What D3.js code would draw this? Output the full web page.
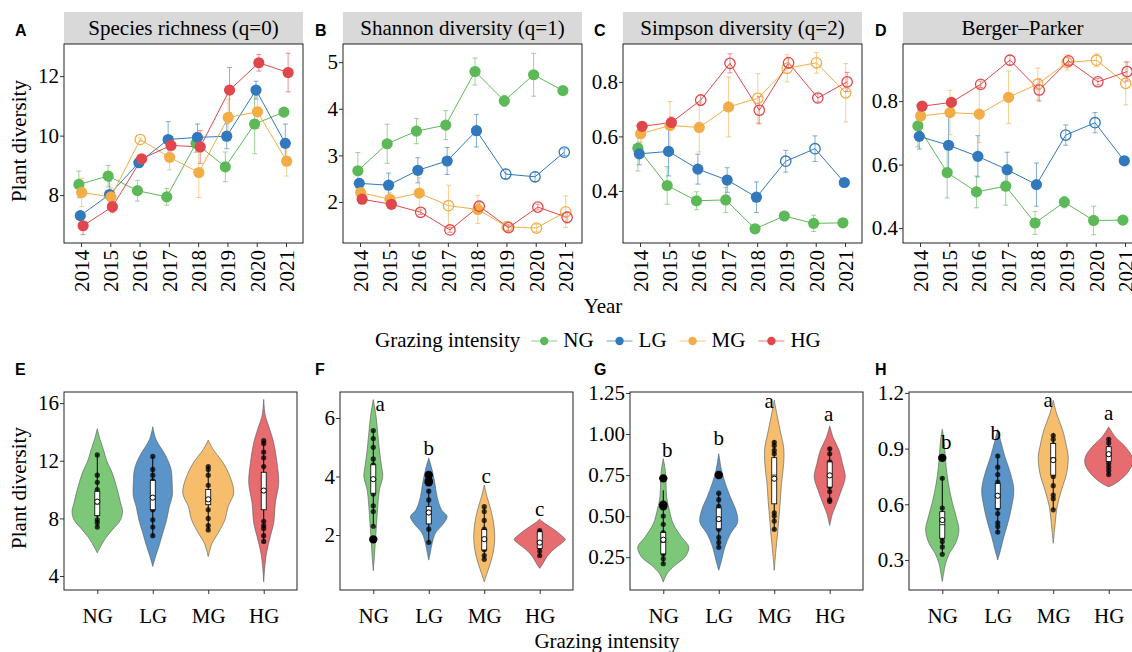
<!DOCTYPE html>
<html>
<head>
<meta charset="utf-8">
<script src="https://cdn.jsdelivr.net/npm/d3@7"></script>
<style>
  body { margin: 0; background: #fff; }
  text { font-family: "Liberation Serif", "Times New Roman", serif; }
</style>
</head>
<body>
<svg id="chart" width="1132" height="652"></svg>
<script>
// ---- categories ----
var years = [2014, 2015, 2016, 2017, 2018, 2019, 2020, 2021];
var groups = ['NG', 'LG', 'MG', 'HG'];
var colours = ['#5db957', '#3179bc', '#f2ad47', '#e0474c'];

// ---- yearly means / se (rows: NG, LG, MG, HG) ----
var richnessMean = [
  [8.36, 8.64, 8.15, 7.94, 9.74, 8.95, 10.39, 10.79],
  [7.31, 8.02, 9.09, 9.87, 9.94, 9.98, 11.53, 9.74],
  [8.09, 7.94, 9.87, 9.27, 8.76, 10.61, 10.80, 9.14],
  [6.97, 7.61, 9.22, 9.67, 9.62, 11.53, 12.45, 12.12]
];
var richnessSe = [
  [0.45, 0.36, 0.35, 0.28, 0.30, 0.50, 1.00, 0.10],
  [0.10, 0.45, 0.15, 0.60, 0.45, 0.42, 0.30, 0.65],
  [0.48, 0.30, 0.05, 0.42, 0.84, 0.62, 0.56, 0.50],
  [0.30, 0.20, 0.10, 0.30, 0.55, 0.76, 0.28, 0.65]
];
var richnessOpen = [
  [0, 0, 0, 0, 0, 0, 0, 0],
  [0, 0, 0, 0, 0, 0, 0, 0],
  [0, 0, 1, 0, 0, 0, 0, 0],
  [0, 0, 0, 0, 0, 0, 0, 0]
];

var shannonMean = [
  [2.67, 3.25, 3.52, 3.65, 4.80, 4.17, 4.73, 4.39],
  [2.40, 2.36, 2.68, 2.88, 3.53, 2.60, 2.54, 3.07],
  [2.20, 2.06, 2.19, 1.92, 1.84, 1.47, 1.44, 1.79],
  [2.06, 1.95, 1.78, 1.40, 1.91, 1.45, 1.89, 1.67]
];
var shannonSe = [
  [0.39, 0.42, 0.27, 0.31, 0.29, 0.12, 0.46, 0.03],
  [0.10, 0.26, 0.27, 0.29, 0.35, 0.10, 0.10, 0.07],
  [0.10, 0.15, 0.33, 0.44, 0.30, 0.10, 0.08, 0.34],
  [0.05, 0.08, 0.05, 0.05, 0.07, 0.06, 0.06, 0.12]
];
var shannonOpen = [
  [0, 0, 0, 0, 0, 0, 0, 0],
  [0, 0, 0, 0, 0, 1, 1, 1],
  [0, 0, 0, 1, 0, 1, 1, 1],
  [0, 0, 1, 1, 1, 1, 1, 1]
];

var simpsonMean = [
  [0.557, 0.420, 0.364, 0.367, 0.261, 0.308, 0.281, 0.283],
  [0.536, 0.545, 0.480, 0.440, 0.377, 0.509, 0.555, 0.431],
  [0.610, 0.640, 0.633, 0.708, 0.740, 0.850, 0.870, 0.760],
  [0.637, 0.651, 0.733, 0.868, 0.696, 0.870, 0.741, 0.800]
];
var simpsonSe = [
  [0.084, 0.069, 0.033, 0.046, 0.015, 0.010, 0.030, 0.005],
  [0.040, 0.090, 0.055, 0.045, 0.056, 0.040, 0.047, 0.010],
  [0.030, 0.088, 0.090, 0.110, 0.090, 0.050, 0.038, 0.107],
  [0.015, 0.020, 0.020, 0.035, 0.050, 0.020, 0.015, 0.035]
];
var simpsonOpen = [
  [0, 0, 0, 0, 0, 0, 0, 0],
  [0, 0, 0, 0, 0, 1, 1, 0],
  [0, 0, 0, 0, 1, 1, 1, 1],
  [0, 0, 1, 1, 1, 1, 1, 1]
];

var bergerMean = [
  [0.722, 0.575, 0.514, 0.532, 0.416, 0.482, 0.424, 0.425],
  [0.689, 0.661, 0.626, 0.584, 0.537, 0.693, 0.732, 0.612],
  [0.753, 0.764, 0.759, 0.812, 0.854, 0.922, 0.929, 0.856],
  [0.784, 0.796, 0.853, 0.929, 0.835, 0.927, 0.861, 0.893]
];
var bergerSe = [
  [0.066, 0.080, 0.050, 0.060, 0.036, 0.018, 0.045, 0.010],
  [0.040, 0.090, 0.065, 0.055, 0.068, 0.032, 0.032, 0.012],
  [0.020, 0.070, 0.090, 0.083, 0.050, 0.024, 0.020, 0.068],
  [0.010, 0.010, 0.010, 0.015, 0.035, 0.012, 0.010, 0.030]
];
var bergerOpen = simpsonOpen;

// ---- violin density profiles: [value, half width in category steps] ----
var violinRichness = [
  [[14.22,0],[13.47,0.05],[12.78,0.11],[12.0,0.17],[11.15,0.27],[10.0,0.36],[9.07,0.42],[8.49,0.455],[7.9,0.42],[7.2,0.27],[6.63,0.15],[6.05,0.06],[5.6,0]],
  [[14.36,0],[13.47,0.06],[12.3,0.24],[11.4,0.33],[10.46,0.35],[9.53,0.35],[8.84,0.30],[7.9,0.25],[6.98,0.18],[6.05,0.11],[5.35,0.05],[4.66,0]],
  [[13.43,0],[12.78,0.09],[11.85,0.27],[10.92,0.39],[9.76,0.46],[8.84,0.36],[7.9,0.30],[6.98,0.18],[6.28,0.07],[5.35,0]],
  [[16.26,0],[15.1,0.03],[14.17,0.11],[13.24,0.18],[11.85,0.24],[10.46,0.27],[9.07,0.21],[7.68,0.18],[6.75,0.12],[5.59,0.05],[4.66,0.02],[3.6,0]]
];
var violinShannon = [
  [[6.63,0],[6.06,0.05],[5.49,0.08],[4.91,0.11],[4.34,0.15],[4.0,0.17],[3.54,0.11],[2.97,0.08],[2.4,0.06],[1.71,0.035],[1.26,0.02],[0.78,0]],
  [[4.63,0],[4.23,0.06],[3.77,0.11],[3.31,0.15],[2.86,0.23],[2.63,0.33],[2.4,0.27],[2.06,0.12],[1.71,0.06],[1.37,0.025],[1.14,0]],
  [[3.71,0],[3.31,0.05],[2.86,0.12],[2.4,0.17],[1.94,0.19],[1.49,0.17],[1.03,0.11],[0.69,0.05],[0.4,0]],
  [[2.54,0],[2.4,0.09],[2.17,0.27],[1.94,0.42],[1.85,0.46],[1.71,0.39],[1.49,0.24],[1.26,0.13],[1.03,0.06],[0.86,0]]
];
var violinSimpson = [
  [[0.85,0],[0.78,0.035],[0.697,0.05],[0.616,0.06],[0.535,0.11],[0.453,0.18],[0.372,0.33],[0.311,0.46],[0.25,0.39],[0.2,0.21],[0.15,0.07],[0.098,0]],
  [[0.88,0],[0.78,0.05],[0.697,0.12],[0.616,0.21],[0.535,0.31],[0.463,0.34],[0.392,0.21],[0.311,0.11],[0.23,0.05],[0.17,0]],
  [[1.205,0],[1.1,0.06],[1.0,0.12],[0.92,0.17],[0.82,0.17],[0.697,0.13],[0.595,0.11],[0.494,0.085],[0.392,0.06],[0.29,0.03],[0.17,0]],
  [[1.05,0],[0.98,0.06],[0.9,0.17],[0.82,0.23],[0.738,0.28],[0.657,0.21],[0.575,0.12],[0.514,0.05],[0.443,0]]
];
var violinBerger = [
  [[1.005,0],[0.945,0.03],[0.874,0.05],[0.80,0.07],[0.712,0.11],[0.623,0.17],[0.533,0.25],[0.461,0.30],[0.39,0.24],[0.336,0.13],[0.282,0.06],[0.228,0.025],[0.183,0]],
  [[1.003,0],[0.945,0.05],[0.856,0.13],[0.766,0.23],[0.677,0.29],[0.587,0.25],[0.497,0.18],[0.425,0.11],[0.354,0.05],[0.3,0]],
  [[1.16,0],[1.089,0.06],[0.999,0.17],[0.91,0.24],[0.856,0.27],[0.766,0.24],[0.677,0.15],[0.587,0.07],[0.497,0.035],[0.39,0]],
  [[1.017,0],[0.963,0.12],[0.91,0.30],[0.856,0.42],[0.82,0.43],[0.766,0.33],[0.712,0.12],[0.694,0]]
];

// ---- box stats: [lower whisker, q1, median, q3, upper whisker, mean] ----
var boxRichness = [[7.37,8.19,9.0,9.88,12.43,9.16],[6.75,8.6,9.4,10.64,12.3,9.44],[7.16,8.95,9.3,10.0,11.67,9.32],[6.35,8.6,9.8,11.2,13.4,9.93]];
var boxShannon = [[2.32,3.43,3.9,4.4,5.57,3.91],[1.74,2.38,2.7,2.97,3.57,2.77],[1.17,1.49,1.85,2.19,2.97,1.86],[1.26,1.54,1.75,2.11,2.17,1.74]];
var boxSimpson = [[0.21,0.27,0.34,0.40,0.657,0.356],[0.307,0.423,0.47,0.55,0.64,0.482],[0.41,0.575,0.75,0.856,0.96,0.728],[0.575,0.677,0.74,0.83,0.92,0.748]];
var boxBerger = [[0.332,0.417,0.49,0.56,0.748,0.515],[0.443,0.578,0.64,0.712,0.87,0.646],[0.57,0.757,0.85,0.928,0.985,0.838],[0.757,0.83,0.86,0.91,0.96,0.87]];

// ---- observations and outliers ----
var dotsRichness = [[12.4,11.0,10.5,10.0,8.3,7.9,7.7,7.4],[12.3,11.4,11.0,10.6,8.6,7.9,7.4,6.8],[11.6,11.4,11.0,10.3,8.6,8.0,7.5,7.2],[13.4,13.2,12.6,12.2,11.6,7.8,7.5,7.3,6.8,6.4]];
var dotsShannon = [[5.57,5.3,5.0,4.6,4.4,3.4,3.0,2.8,2.3],[3.5,3.2,2.5,2.2,1.75],[2.97,2.8,2.5,2.2,1.5,1.3,1.17],[2.15,2.1,2.0,1.6,1.45,1.3]];
var dotsSimpson = [[0.50,0.45,0.40,0.38,0.30,0.27,0.24,0.21],[0.64,0.60,0.56,0.45,0.42,0.37,0.34,0.31],[0.95,0.93,0.90,0.88,0.60,0.52,0.50,0.47,0.42],[0.91,0.88,0.83,0.68,0.65,0.60,0.59]];
var dotsBerger = [[0.74,0.58,0.55,0.42,0.40,0.37,0.33],[0.86,0.80,0.76,0.72,0.58,0.55,0.50,0.48,0.45],[0.97,0.95,0.92,0.88,0.75,0.70,0.65,0.63,0.57],[0.95,0.93,0.90,0.82,0.80,0.78,0.76]];
var outRichness = [[], [], [], []];
var outShannon = [[1.85], [4.05, 3.85, 3.8], [], []];
var outSimpson = [[0.73, 0.57, 0.56], [0.75], [], []];
var outBerger = [[0.85], [], [], []];

// ---- significance letters ----
var lettersShannon = ['a', 'b', 'c', 'c'];
var letterYShannon = [6.45, 4.95, 4.0, 2.86];
var lettersSimpson = ['b', 'b', 'a', 'a'];
var letterYSimpson = [0.9, 0.97, 1.2, 1.12];
var lettersBerger = ['b', 'b', 'a', 'a'];
var letterYBerger = [0.93, 0.98, 1.16, 1.09];

// ------------------------------------------------------------
var svg = d3.select('#chart');
var colourScale = d3.scaleOrdinal().domain(groups).range(colours);
var FS = 21;
var letterX = [15, 315, 594, 875];

function styleAxis(sel) {
  sel.attr('font-family', '"Liberation Serif", serif').attr('font-size', FS);
  sel.select('.domain').remove();
  sel.selectAll('.tick line').attr('stroke', '#333');
  sel.selectAll('.tick text').attr('fill', '#000');
}

function panelLetter(x, y, t) {
  svg.append('text').attr('x', x).attr('y', y).text(t)
    .style('font-family', '"Liberation Sans", Arial, sans-serif')
    .style('font-weight', 'bold').style('font-size', '16px');
}

// ---------------- top row: yearly trends ----------------
var topPanels = [
  {key: 'A', title: 'Species richness (q=0)', left: 64, mean: richnessMean, se: richnessSe, open: richnessOpen, domain: [6.39, 13.08], ticks: [8, 10, 12], fmt: d3.format('d')},
  {key: 'B', title: 'Shannon diversity (q=1)', left: 343, mean: shannonMean, se: shannonSe, open: shannonOpen, domain: [1.12, 5.39], ticks: [2, 3, 4, 5], fmt: d3.format('d')},
  {key: 'C', title: 'Simpson diversity (q=2)', left: 623, mean: simpsonMean, se: simpsonSe, open: simpsonOpen, domain: [0.209, 0.939], ticks: [0.4, 0.6, 0.8], fmt: d3.format('.1f')},
  {key: 'D', title: 'Berger\u2013Parker', left: 903, mean: bergerMean, se: bergerSe, open: bergerOpen, domain: [0.353, 0.98], ticks: [0.4, 0.6, 0.8], fmt: d3.format('.1f')}
];
var topY = 44, topH = 199, topW = 239, stripH = 32;
var dodge = 0.048;

topPanels.forEach(function(p, k) {
  var g = svg.append('g').attr('transform', 'translate(' + p.left + ',' + topY + ')');
  var x = d3.scaleLinear().domain([2013.42, 2021.58]).range([0, topW]);
  var y = d3.scaleLinear().domain(p.domain).range([topH, 0]);

  g.append('rect').attr('x', 0).attr('y', -stripH).attr('width', topW).attr('height', stripH).attr('fill', '#d9d9d9');
  g.append('text').attr('x', topW / 2).attr('y', -9).attr('text-anchor', 'middle')
    .style('font-size', FS + 'px').text(p.title);

  var xa = g.append('g').attr('transform', 'translate(0,' + topH + ')')
    .call(d3.axisBottom(x).tickValues(years).tickFormat(d3.format('d')).tickSize(4).tickPadding(3));
  styleAxis(xa);
  xa.selectAll('.tick text').attr('transform', 'rotate(-90)').attr('x', -7).attr('y', 0)
    .attr('dy', '0.35em').style('text-anchor', 'end');

  var ya = g.append('g').call(d3.axisLeft(y).tickValues(p.ticks).tickFormat(p.fmt).tickSize(4).tickPadding(1));
  styleAxis(ya);

  var plot = g.append('g');
  // error bars
  groups.forEach(function(grp, i) {
    var off = (i - 1.5) * dodge;
    var c = colourScale(grp);
    years.forEach(function(yr, j) {
      var cx = x(yr + off), m = p.mean[i][j], s = p.se[i][j];
      var eb = plot.append('g').attr('stroke', c).attr('stroke-opacity', 0.6).attr('stroke-width', 1);
      eb.append('line').attr('x1', cx).attr('x2', cx).attr('y1', y(m - s)).attr('y2', y(m + s));
      eb.append('line').attr('x1', cx - 2.5).attr('x2', cx + 2.5).attr('y1', y(m - s)).attr('y2', y(m - s));
      eb.append('line').attr('x1', cx - 2.5).attr('x2', cx + 2.5).attr('y1', y(m + s)).attr('y2', y(m + s));
    });
  });
  // lines
  groups.forEach(function(grp, i) {
    var off = (i - 1.5) * dodge;
    var line = d3.line().x(function(d, j) { return x(years[j] + off); }).y(function(d) { return y(d); });
    plot.append('path').datum(p.mean[i]).attr('d', line).attr('fill', 'none')
      .attr('stroke', colourScale(grp)).attr('stroke-width', 1);
  });
  // points
  groups.forEach(function(grp, i) {
    var off = (i - 1.5) * dodge;
    var c = colourScale(grp);
    plot.selectAll(null).data(p.mean[i]).enter().append('circle')
      .attr('cx', function(d, j) { return x(years[j] + off); })
      .attr('cy', function(d) { return y(d); })
      .attr('r', function(d, j) { return p.open[i][j] ? 5.2 : 5.6; })
      .attr('fill', function(d, j) { return p.open[i][j] ? 'none' : c; })
      .attr('stroke', c)
      .attr('stroke-width', function(d, j) { return p.open[i][j] ? 1.3 : 0; });
  });

  g.append('rect').attr('width', topW).attr('height', topH).attr('fill', 'none').attr('stroke', '#222').attr('stroke-width', 1);
  panelLetter(letterX[k], 36, p.key);
});

svg.append('text').attr('transform', 'translate(26,141) rotate(-90)')
  .attr('text-anchor', 'middle').style('font-size', FS + 'px').text('Plant diversity');
svg.append('text').attr('x', 603).attr('y', 313).attr('text-anchor', 'middle').style('font-size', FS + 'px').text('Year');

// ---------------- legend ----------------
var legend = svg.append('g').attr('transform', 'translate(375,347)');
var lt = legend.append('text').attr('x', 0).attr('y', 0).style('font-size', FS + 'px').text('Grazing intensity');
var lx = lt.node().getComputedTextLength() + 11;
groups.forEach(function(grp) {
  var c = colourScale(grp);
  legend.append('line').attr('x1', lx).attr('x2', lx + 26).attr('y1', -6).attr('y2', -6)
    .attr('stroke', c).attr('stroke-opacity', 0.6).attr('stroke-width', 1.2);
  legend.append('circle').attr('cx', lx + 13).attr('cy', -6).attr('r', 4.2).attr('fill', c);
  var t = legend.append('text').attr('x', lx + 32).attr('y', 0).style('font-size', FS + 'px').text(grp);
  lx += 32 + t.node().getComputedTextLength() + 13;
});

// ---------------- bottom row: violins ----------------
var bottomPanels = [
  {key: 'E', left: 64, violin: violinRichness, box: boxRichness, dots: dotsRichness, out: outRichness, letters: null, letterY: null, nudge: null, domain: [3.03, 16.77], ticks: [4, 8, 12, 16], fmt: d3.format('d')},
  {key: 'F', left: 340, violin: violinShannon, box: boxShannon, dots: dotsShannon, out: outShannon, letters: lettersShannon, letterY: letterYShannon, nudge: [7, 0, 2, 0], domain: [0.12, 6.89], ticks: [2, 4, 6], fmt: d3.format('d')},
  {key: 'G', left: 630, violin: violinSimpson, box: boxSimpson, dots: dotsSimpson, out: outSimpson, letters: lettersSimpson, letterY: letterYSimpson, nudge: [4, 0, -5, -1], domain: [0.05, 1.256], ticks: [0.25, 0.5, 0.75, 1.0, 1.25], fmt: d3.format('.2f')},
  {key: 'H', left: 909, violin: violinBerger, box: boxBerger, dots: dotsBerger, out: outBerger, letters: lettersBerger, letterY: letterYBerger, nudge: [4, -2, -5, 0], domain: [0.138, 1.205], ticks: [0.3, 0.6, 0.9, 1.2], fmt: d3.format('.1f')}
];
var botY = 392, botH = 198, botW = 233;

bottomPanels.forEach(function(p, k) {
  var g = svg.append('g').attr('transform', 'translate(' + p.left + ',' + botY + ')');
  var x = d3.scalePoint().domain(groups).range([0, botW]).padding(0.6);
  var y = d3.scaleLinear().domain(p.domain).range([botH, 0]);
  var step = x.step();

  var xa = g.append('g').attr('transform', 'translate(0,' + botH + ')')
    .call(d3.axisBottom(x).tickSize(4).tickPadding(14));
  styleAxis(xa);
  var ya = g.append('g').call(d3.axisLeft(y).tickValues(p.ticks).tickFormat(p.fmt).tickSize(4).tickPadding(1));
  styleAxis(ya);

  groups.forEach(function(grp, i) {
    var cx = x(grp);
    var c = colourScale(grp);
    var area = d3.area().curve(d3.curveCatmullRom.alpha(0.5))
      .y(function(d) { return y(d[0]); })
      .x0(function(d) { return cx - d[1] * step; })
      .x1(function(d) { return cx + d[1] * step; });
    g.append('path').datum(p.violin[i]).attr('d', area)
      .attr('fill', c).attr('fill-opacity', 0.8).attr('stroke', '#555').attr('stroke-width', 0.6);

    var b = p.box[i];
    var bw = 0.045 * step;
    g.append('line').attr('x1', cx).attr('x2', cx).attr('y1', y(b[0])).attr('y2', y(b[4]))
      .attr('stroke', '#000').attr('stroke-width', 1);
    g.selectAll(null).data(p.dots[i]).enter().append('circle')
      .attr('cx', cx).attr('cy', function(d) { return y(d); }).attr('r', 2.6)
      .attr('fill', '#000').attr('fill-opacity', 0.75);
    g.selectAll(null).data(p.out[i]).enter().append('circle')
      .attr('cx', cx).attr('cy', function(d) { return y(d); }).attr('r', 4.2)
      .attr('fill', '#000');
    g.append('rect').attr('x', cx - bw).attr('width', 2 * bw)
      .attr('y', y(b[3])).attr('height', y(b[1]) - y(b[3]))
      .attr('fill', '#fff').attr('stroke', '#000').attr('stroke-width', 0.8);
    g.append('line').attr('x1', cx - bw).attr('x2', cx + bw).attr('y1', y(b[2])).attr('y2', y(b[2]))
      .attr('stroke', '#000').attr('stroke-width', 0.8);
    g.append('circle').attr('cx', cx).attr('cy', y(b[5])).attr('r', 2.6)
      .attr('fill', '#fff').attr('stroke', '#000').attr('stroke-width', 1);

    if (p.letters) {
      g.append('text').attr('x', cx + p.nudge[i]).attr('y', y(p.letterY[i])).attr('dy', '0.3em')
        .attr('text-anchor', 'middle').style('font-size', FS + 'px').text(p.letters[i]);
    }
  });

  g.append('rect').attr('width', botW).attr('height', botH).attr('fill', 'none').attr('stroke', '#222').attr('stroke-width', 1);
  panelLetter(letterX[k], 375, p.key);
});

svg.append('text').attr('transform', 'translate(26,488) rotate(-90)')
  .attr('text-anchor', 'middle').style('font-size', FS + 'px').text('Plant diversity');
svg.append('text').attr('x', 607).attr('y', 648).attr('text-anchor', 'middle').style('font-size', FS + 'px').text('Grazing intensity');
</script>
</body>
</html>
